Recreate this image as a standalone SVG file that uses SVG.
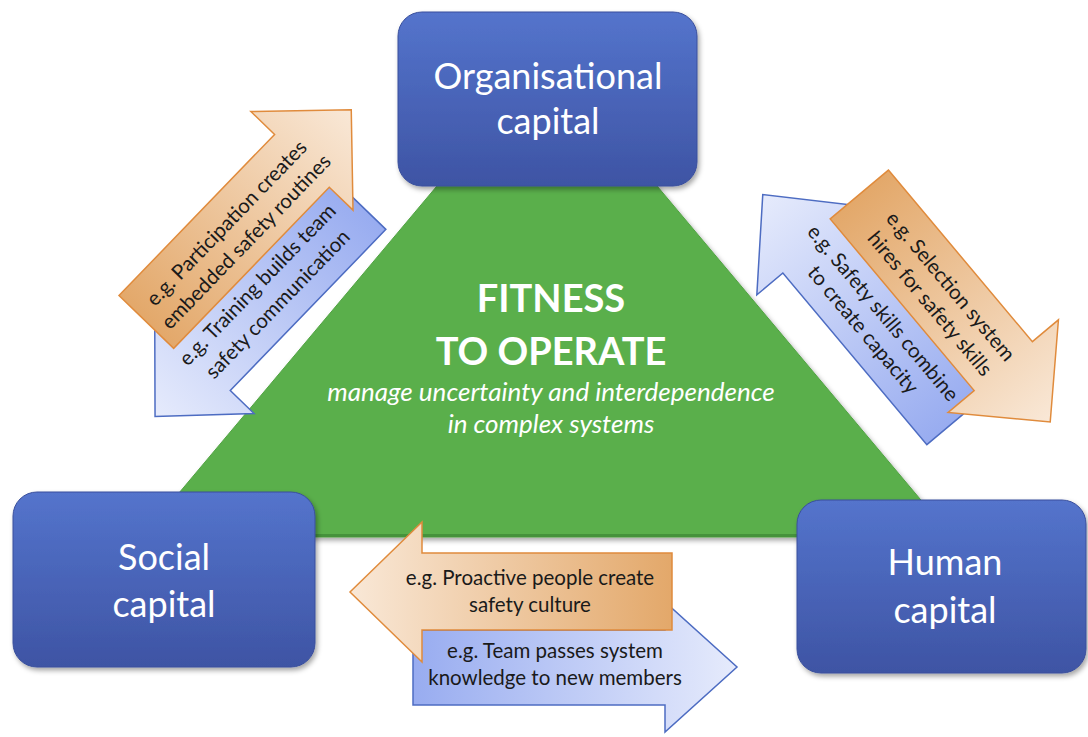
<svg xmlns="http://www.w3.org/2000/svg" width="1088" height="737" viewBox="0 0 1088 737">
<defs>
<linearGradient id="boxG" x1="0" y1="0" x2="0" y2="1">
<stop offset="0" stop-color="#5474CC"/><stop offset="1" stop-color="#3E54A4"/>
</linearGradient>
<linearGradient id="orTipR" x1="0" y1="0" x2="1" y2="0">
<stop offset="0" stop-color="#E3A86A"/><stop offset="1" stop-color="#F9E8D7"/>
</linearGradient>
<linearGradient id="orTipL" x1="0" y1="0" x2="1" y2="0">
<stop offset="0" stop-color="#F9E8D7"/><stop offset="1" stop-color="#E3A86A"/>
</linearGradient>
<linearGradient id="blTipL" x1="0" y1="0" x2="1" y2="0">
<stop offset="0" stop-color="#E6EBFC"/><stop offset="1" stop-color="#98ACF0"/>
</linearGradient>
<linearGradient id="blTipR" x1="0" y1="0" x2="1" y2="0">
<stop offset="0" stop-color="#98ACF0"/><stop offset="1" stop-color="#E6EBFC"/>
</linearGradient>
<filter id="sh" x="-10%" y="-10%" width="125%" height="130%">
<feDropShadow dx="2" dy="3" stdDeviation="2.5" flood-color="#000" flood-opacity="0.35"/>
</filter>
</defs>
<style>
.box{fill:url(#boxG);stroke:#3A4F9C;stroke-width:1;filter:url(#sh)}
.boxt{font-family:Lato,"Open Sans",sans-serif;font-size:36px;fill:#fff;text-anchor:middle}
.or{stroke:#E08B3C;stroke-width:1.5;stroke-linejoin:miter}
.bl{stroke:#4D6CC2;stroke-width:1.5;stroke-linejoin:miter}
.at{font-family:Lato,"Open Sans",sans-serif;font-size:20.5px;fill:#1a1a1a;text-anchor:middle}
.ft{font-family:Lato,"Open Sans",sans-serif;font-weight:bold;font-size:38px;fill:#fff;text-anchor:middle}
.it{font-family:Lato,"Open Sans",sans-serif;font-style:italic;font-size:26px;fill:#fff;text-anchor:middle}
</style>

<g id="fitness">
<polygon points="547,55 142,537 952,537" fill="#5AAF4B" stroke="#52A444" stroke-width="1" filter="url(#sh)"/>
<line x1="150" y1="535.5" x2="945" y2="535.5" stroke="#45923B" stroke-width="3"/>
<text class="ft" x="551" y="312">FITNESS</text>
<text class="ft" x="551" y="365">TO OPERATE</text>
<text class="it" x="551" y="401">manage uncertainty and interdependence</text>
<text class="it" x="551" y="433">in complex systems</text>
</g>

<g id="connectors">
<g id="arrows-org-social" transform="translate(250,265) rotate(-46)">
<path class="bl" fill="url(#blTipL)" d="M120,1 L-104,1 L-104,-32 L-175,37 L-104,106 L-104,73 L120,73 Z"/>
<path class="or" fill="url(#orTipR)" d="M-113,-73 L111,-73 L111,-106 L182,-35 L111,36 L111,3 L-113,3 Z"/>
<text class="at" x="14" y="-39">e.g. Participation creates</text>
<text class="at" x="14" y="-12">embedded safety routines</text>
<text class="at" x="-9" y="26">e.g. Training builds team</text>
<text class="at" x="-9" y="54">safety communication</text>
</g>
<g id="arrows-org-human" transform="translate(905,305) rotate(50)">
<path class="bl" fill="url(#blTipL)" d="M121,1 L-103,1 L-103,-31 L-176,38 L-103,107 L-103,73 L121,73 Z"/>
<path class="or" fill="url(#orTipR)" d="M-114,-74 L110,-74 L110,-108 L183,-36 L110,36 L110,2 L-114,2 Z"/>
<text class="at" x="15" y="-40">e.g. Selection system</text>
<text class="at" x="15" y="-13">hires for safety skills</text>
<text class="at" x="-8" y="29">e.g. Safety skills combine</text>
<text class="at" x="-8" y="55">to create capacity</text>
</g>
<g id="arrows-human-social">
<path class="bl" fill="url(#blTipR)" d="M413,630 L665,630 L665,602 L737,667 L665,732 L665,705 L413,705 Z"/>
<path class="or" fill="url(#orTipL)" d="M672,553 L422,553 L422,522 L350,592 L422,662 L422,630 L672,630 Z"/>
<text class="at" x="530" y="585">e.g. Proactive people create</text>
<text class="at" x="530" y="612">safety culture</text>
<text class="at" x="555" y="658">e.g. Team passes system</text>
<text class="at" x="555" y="685">knowledge to new members</text>
</g>
</g>

<g id="organisational">
<rect class="box" x="398" y="12" width="299" height="174" rx="24"/>
<text class="boxt" x="548" y="89">Organisational</text>
<text class="boxt" x="548" y="134">capital</text>
</g>
<g id="social">
<rect class="box" x="13" y="492" width="302" height="175" rx="24"/>
<text class="boxt" x="164" y="570">Social</text>
<text class="boxt" x="164" y="617">capital</text>
</g>
<g id="human">
<rect class="box" x="797" y="500" width="289" height="173" rx="24"/>
<text class="boxt" x="945" y="575">Human</text>
<text class="boxt" x="945" y="623">capital</text>
</g>
</svg>
